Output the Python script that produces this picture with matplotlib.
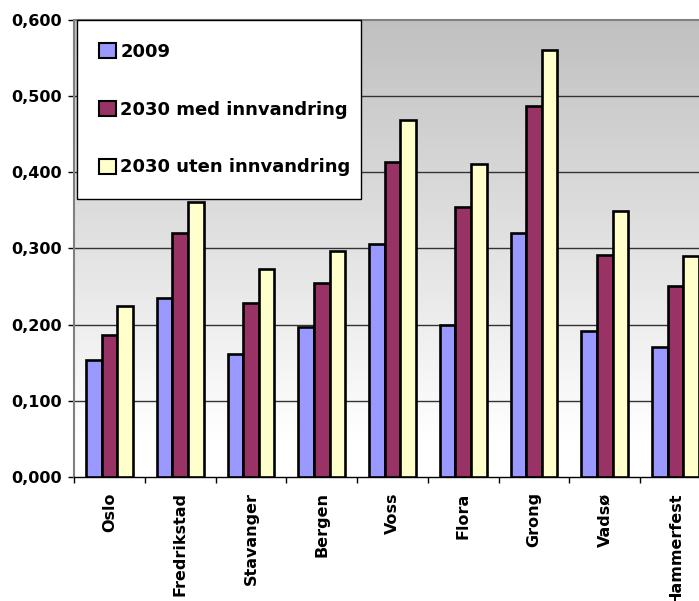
import matplotlib
matplotlib.use("Agg")
import matplotlib.pyplot as plt
import numpy as np
from matplotlib.patches import Patch
from matplotlib.colors import LinearSegmentedColormap

cities = ["Oslo", "Fredrikstad", "Stavanger", "Bergen", "Voss",
          "Flora", "Grong", "Vadsø", "Hammerfest"]
v2009 = [0.154, 0.235, 0.161, 0.197, 0.306, 0.199, 0.321, 0.192, 0.171]
v2030_med = [0.186, 0.320, 0.228, 0.255, 0.413, 0.354, 0.487, 0.291, 0.251]
v2030_uten = [0.224, 0.361, 0.273, 0.297, 0.469, 0.411, 0.560, 0.349, 0.290]
series_names = ["2009", "2030 med innvandring", "2030 uten innvandring"]
colors = ["#9999FF", "#993366", "#FFFFCC"]
yticks = [0.0, 0.1, 0.2, 0.3, 0.4, 0.5, 0.6]

plt.rcParams["font.family"] = ["DejaVu Sans"]
plt.rcParams["font.weight"] = "bold"

fig = plt.figure(figsize=(6.99, 6.01), dpi=100)
# plot area runs past the right edge, as in the reference
ax = fig.add_axes([74 / 699, 1 - 477 / 601, 637 / 699, 457 / 601])

# grey-to-white gradient background
cmap = LinearSegmentedColormap.from_list("bg", [(0, "#ffffff"), (0.083, "#ffffff"), (1, "#c0c0c0")])
grad = np.linspace(0, 1, 256).reshape(-1, 1)
ax.imshow(grad, cmap=cmap, origin="lower", extent=[0, 1, 0, 1], aspect="auto",
          transform=ax.transAxes, zorder=0)

x = np.arange(len(cities))
w = 0.22
for i, (vals, c) in enumerate(zip([v2009, v2030_med, v2030_uten], colors)):
    ax.bar(x + (i - 1) * w, vals, width=w, color=c, edgecolor="black",
           linewidth=1.9, zorder=3)

ax.set_xlim(-0.5, len(cities) - 0.5)
ax.set_ylim(0, 0.6)
ax.set_yticks(yticks)
ax.set_yticklabels([f"{t:.3f}".replace(".", ",") for t in yticks],
                   fontsize=11.5, fontweight="bold")
for t in yticks[1:-1]:
    ax.axhline(t, color="#333333", lw=1, zorder=1)

ax.set_xticks(x)
ax.set_xticklabels(cities, rotation=90, fontsize=11.5, fontweight="bold")
ax.set_xticks(np.arange(len(cities) + 1) - 0.5, minor=True)
ax.tick_params(axis="x", which="major", length=0, pad=11)
ax.tick_params(axis="x", which="minor", length=4.5, width=1, color="black")
ax.tick_params(axis="y", length=4, width=1, pad=5, color="black")

ax.spines["left"].set_color("#808080")
ax.spines["left"].set_linewidth(1.5)
ax.spines["top"].set_color("#808080")
ax.spines["top"].set_linewidth(1.5)
ax.spines["bottom"].set_color("black")
ax.spines["bottom"].set_linewidth(1)
ax.spines["right"].set_visible(False)

handles = [Patch(facecolor=c, edgecolor="black", linewidth=1.5) for c in colors]
leg = ax.legend(handles, series_names, loc="upper left",
                bbox_to_anchor=(0.004, 0.0, 0.447, 1.0), mode="expand",
                borderaxespad=0, prop={"weight": "bold", "size": 13},
                handlelength=0.9, handleheight=0.9, handletextpad=0.25,
                labelspacing=2.2, borderpad=1.27, fancybox=False, framealpha=1)
leg.get_frame().set_edgecolor("black")
leg.get_frame().set_linewidth(1)
leg.set_zorder(5)

fig.savefig("out.png", dpi=100)
